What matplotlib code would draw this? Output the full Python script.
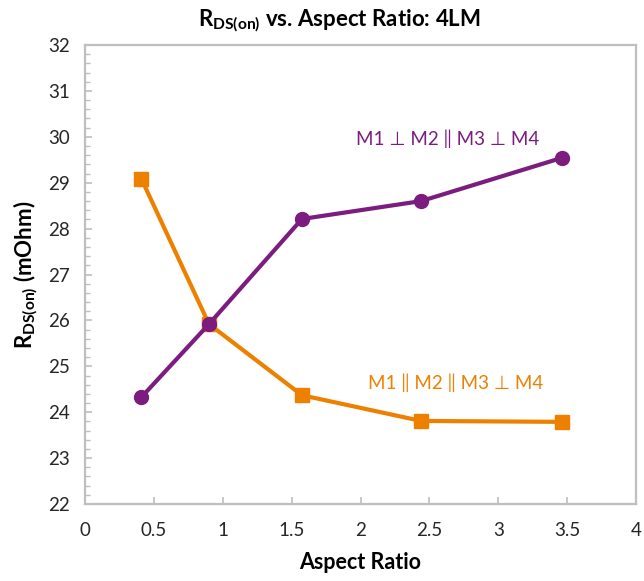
import matplotlib
matplotlib.use("Agg")
from matplotlib import pyplot as plt
from matplotlib.ticker import MultipleLocator

# aspect ratio sweep, on-resistance in mOhm
aspect_ratio = [0.41, 0.90, 1.575, 2.44, 3.46]
rds_perp = [24.33, 25.92, 28.21, 28.60, 29.54]      # M1 ⊥ M2 || M3 ⊥ M4
rds_parallel = [29.08, 25.92, 24.37, 23.81, 23.79]  # M1 || M2 || M3 ⊥ M4

x_ticks = [0, 0.5, 1, 1.5, 2, 2.5, 3, 3.5, 4]
x_tick_labels = ["0", "0.5", "1", "1.5", "2", "2.5", "3", "3.5", "4"]
y_ticks = list(range(22, 33))

PURPLE = "#7b1c7e"
ORANGE = "#ee8000"
GREY = "#bfbfbf"

plt.rcParams["font.family"] = ["Lato", "DejaVu Sans"]
plt.rcParams["mathtext.fontset"] = "custom"
plt.rcParams["mathtext.rm"] = "Lato"
plt.rcParams["mathtext.bf"] = "Lato:bold"
plt.rcParams["mathtext.it"] = "Lato:italic"

fig = plt.figure(figsize=(6.44, 5.81), dpi=100)
ax = fig.add_axes([0.132, 0.1325, 0.8556, 0.79])

ax.plot(aspect_ratio, rds_perp, color=PURPLE, lw=3, marker="o", ms=10,
        solid_joinstyle="round", zorder=3)
ax.plot(aspect_ratio, rds_parallel, color=ORANGE, lw=3, marker="s", ms=9.5,
        solid_joinstyle="round", zorder=2)

ax.set_xlim(0, 4)
ax.set_ylim(22, 32)
ax.set_xticks(x_ticks)
ax.set_xticklabels(x_tick_labels)
ax.set_yticks(y_ticks)
ax.yaxis.set_minor_locator(MultipleLocator(0.2))

for side in ["left", "bottom", "right", "top"]:
    ax.spines[side].set_color(GREY)
    ax.spines[side].set_linewidth(1.6)

ax.tick_params(axis="x", which="major", direction="in", length=5, width=1.2,
               color=GREY, labelsize=13.5, labelcolor="#262626", pad=13)
ax.tick_params(axis="y", which="major", direction="in", length=5, width=1.2,
               color=GREY, labelsize=13.5, labelcolor="#262626", pad=11)
ax.tick_params(axis="y", which="minor", direction="in", length=3.5, width=1.0,
               color=GREY)

ax.set_xlabel("Aspect Ratio", fontsize=15.5, fontweight="bold", labelpad=9)
ax.set_ylabel(r"$\mathbf{R_{DS(on)}}$ (mOhm)", fontsize=16, fontweight="bold",
              labelpad=6)
fig.suptitle(r"$\mathbf{R_{DS(on)}}$ vs. Aspect Ratio: 4LM", x=0.527, y=0.988,
             fontsize=16, fontweight="bold")

ax.text(2.63, 29.95, "M1 ⊥ M2 ‖ M3 ⊥ M4", color=PURPLE, fontsize=13.5,
        ha="center", va="center")
ax.text(2.69, 24.64, "M1 ‖ M2 ‖ M3 ⊥ M4", color=ORANGE, fontsize=13.5,
        ha="center", va="center")

fig.savefig("out.png", dpi=100)
